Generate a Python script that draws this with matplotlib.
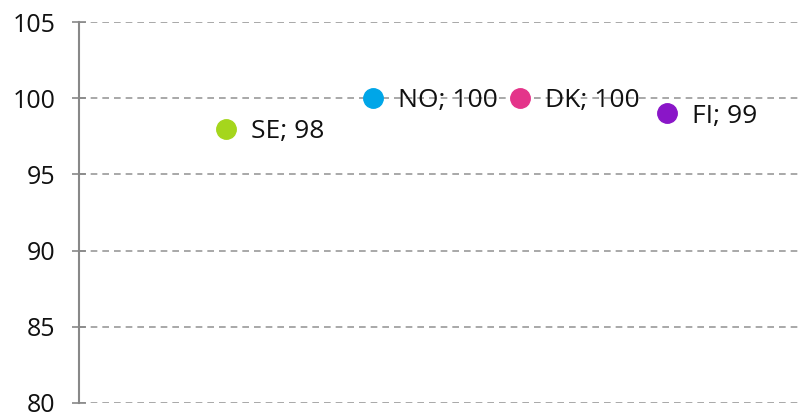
import matplotlib.pyplot as plt

countries = ["SE", "NO", "DK", "FI"]
values = [98, 100, 100, 99]
colors = ["#a5d61c", "#00a6e8", "#e4348a", "#8a16c8"]
y_ticks = [80, 85, 90, 95, 100, 105]

plt.rcParams["font.family"] = ["Open Sans", "DejaVu Sans"]

fig = plt.figure(figsize=(8.02, 4.16), dpi=100)
ax = fig.add_axes([79 / 802, 13 / 416, 723 / 802, 381 / 416])

for i, (c, v, col) in enumerate(zip(countries, values, colors)):
    x = i + 1
    ax.plot(x, v, "o", color=col, markersize=14, zorder=3)
    ax.annotate(f"{c}; {v}", (x, v), xytext=(18, -2), textcoords="offset points",
                va="center", ha="left", fontsize=19, color="#111111", zorder=4)

ax.set_xlim(0, 4.92)
ax.set_ylim(80, 105)
ax.set_yticks(y_ticks)
ax.set_xticks([])
ax.yaxis.grid(True, linestyle=(0, (4, 3)), color="#999999", linewidth=1.2)
ax.set_axisbelow(True)

for s in ["top", "right", "bottom"]:
    ax.spines[s].set_visible(False)
ax.spines["left"].set_color("#888888")
ax.spines["left"].set_linewidth(1.5)
ax.tick_params(axis="y", direction="inout", length=10, width=1.2, color="#888888",
               labelsize=18, pad=12, labelcolor="#111111")

fig.savefig("out.png", dpi=100)
